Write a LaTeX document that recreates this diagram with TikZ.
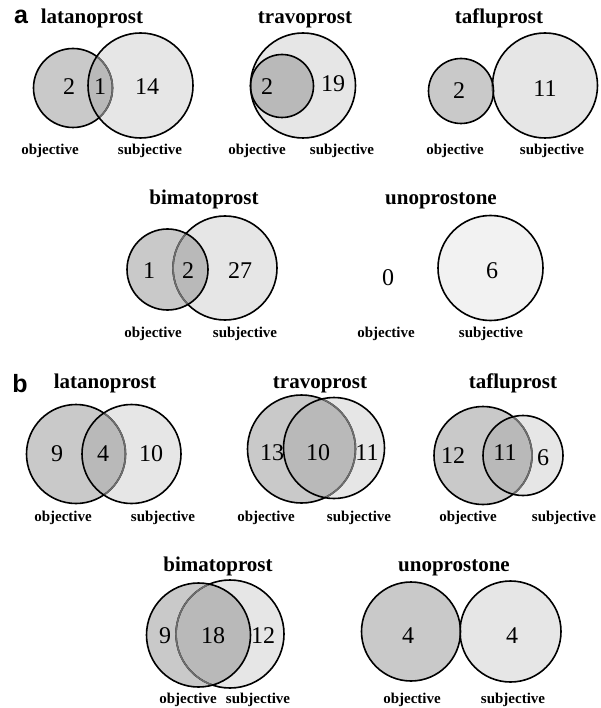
\documentclass[tikz,border=0pt]{standalone}
\usepackage{fontspec}
\setmainfont{Liberation Serif}
\newfontfamily\panelfont{Liberation Sans}
\definecolor{objfill}{HTML}{C9C9C9}
\definecolor{subfill}{HTML}{E6E6E6}
\definecolor{intfill}{HTML}{B9B9B9}
\definecolor{palefill}{HTML}{F2F2F2}
\definecolor{inedge}{HTML}{6E6E6E}
\tikzset{
  edge/.style={draw=black, line width=1.6pt},
  grayedge/.style={draw=inedge, line width=1.6pt},
  ttl/.style={font=\fontsize{21}{21}\selectfont\bfseries, inner sep=0pt, anchor=base},
  num/.style={font=\fontsize{24}{24}\selectfont, inner sep=0pt, anchor=base},
  lbl/.style={font=\fontsize{15}{15}\selectfont\bfseries, inner sep=0pt, anchor=base},
  pan/.style={font=\fontsize{25}{25}\selectfont\panelfont\bfseries, inner sep=0pt, anchor=base}
}
% #1,#2,#3 objective; #4,#5,#6 subjective; #7 = o (objective on top) or s
\newcommand\vennpair[7]{%
  \fill[objfill] (#1,#2) circle (#3);
  \fill[subfill] (#4,#5) circle (#6);
  \begin{scope}\clip (#1,#2) circle (#3); \fill[intfill] (#4,#5) circle (#6); \end{scope}
  \if#7o
    \path[edge] (#4,#5) circle (#6);
    \begin{scope}\clip (#1,#2) circle (#3); \path[grayedge] (#4,#5) circle (#6); \end{scope}
    \path[edge] (#1,#2) circle (#3);
  \else
    \path[edge] (#1,#2) circle (#3);
    \begin{scope}\clip (#4,#5) circle (#6); \path[grayedge] (#1,#2) circle (#3); \end{scope}
    \path[edge] (#4,#5) circle (#6);
  \fi
}
\begin{document}
\begin{tikzpicture}[x=1pt,y=1pt,yscale=-1]
\useasboundingbox (0,0) rectangle (601,708);
% ---------- panel a ----------
\node[pan] (pa) at (21,24) {a};
% latanoprost
\node[ttl] (ta1) at (92,23.5) {latanoprost};
\vennpair{73}{88}{39.5}{140.5}{85.5}{52.5}{s}
\node[num] (na1a) at (69,95) {2};
\node[num] (na1b) at (100,95) {1};
\node[num] (na1c) at (147,95) {14};
\node[lbl] (la1o) at (50,155) {objective};
\node[lbl] (la1s) at (150,155) {subjective};
% travoprost
\node[ttl] (ta2) at (305,23.5) {travoprost};
\vennpair{282}{86}{31.5}{303}{85.5}{52.5}{o}
\node[num] (na2a) at (267,94.5) {2};
\node[num] (na2b) at (333,92) {19};
\node[lbl] (la2o) at (257,155) {objective};
\node[lbl] (la2s) at (342,155) {subjective};
% tafluprost
\node[ttl] (ta3) at (499,23.5) {tafluprost};
\vennpair{461}{91}{32.5}{545}{85.5}{52.5}{o}
\node[num] (na3a) at (459,99) {2};
\node[num] (na3b) at (545,96.5) {11};
\node[lbl] (la3o) at (455,155) {objective};
\node[lbl] (la3s) at (552,155) {subjective};
% bimatoprost
\node[ttl] (ta4) at (204,205) {bimatoprost};
\vennpair{167.5}{269.5}{40.5}{225}{268}{52}{o}
\node[num] (na4a) at (149,278) {1};
\node[num] (na4b) at (188,278) {2};
\node[num] (na4c) at (240,278) {27};
\node[lbl] (la4o) at (153,337) {objective};
\node[lbl] (la4s) at (245,337) {subjective};
% unoprostone
\node[ttl] (ta5) at (441,205) {unoprostone};
\path[edge, fill=palefill] (490.5,268) circle (52.5);
\node[num] (na5a) at (388,285) {0};
\node[num] (na5b) at (492,278) {6};
\node[lbl] (la5o) at (386,337) {objective};
\node[lbl] (la5s) at (491,337) {subjective};
% ---------- panel b ----------
\node[pan] (pb) at (20,392.5) {b};
% latanoprost
\node[ttl] (tb1) at (105,388.5) {latanoprost};
\vennpair{76}{454}{49.5}{131.5}{454}{49.5}{s}
\node[num] (nb1a) at (57,461.5) {9};
\node[num] (nb1b) at (103,461.5) {4};
\node[num] (nb1c) at (151,461.5) {10};
\node[lbl] (lb1o) at (63,521) {objective};
\node[lbl] (lb1s) at (163,521) {subjective};
% travoprost
\node[ttl] (tb2) at (320,388.5) {travoprost};
\vennpair{301.5}{449}{54}{334}{448}{50.5}{s}
\node[num] (nb2a) at (272,460.5) {13};
\node[num] (nb2b) at (318,460.5) {10};
\node[num] (nb2c) at (367,460.5) {11};
\node[lbl] (lb2o) at (266,521) {objective};
\node[lbl] (lb2s) at (359,521) {subjective};
% tafluprost
\node[ttl] (tb3) at (513,388.5) {tafluprost};
\vennpair{483}{455.5}{49}{523}{455.5}{40}{s}
\node[num] (nb3a) at (453,463) {12};
\node[num] (nb3b) at (505,460) {11};
\node[num] (nb3c) at (543,465) {6};
\node[lbl] (lb3o) at (468,521) {objective};
\node[lbl] (lb3s) at (564,521) {subjective};
% bimatoprost
\node[ttl] (tb4) at (218,571) {bimatoprost};
\vennpair{198.5}{635}{52}{230}{634}{54}{o}
\node[num] (nb4a) at (165,643) {9};
\node[num] (nb4b) at (213,643) {18};
\node[num] (nb4c) at (263,643) {12};
\node[lbl] (lb4o) at (188,703) {objective};
\node[lbl] (lb4s) at (258,703) {subjective};
% unoprostone
\node[ttl] (tb5) at (454,571) {unoprostone};
\vennpair{411}{631.5}{49.5}{510.5}{631.5}{50.5}{o}
\node[num] (nb5a) at (408,643) {4};
\node[num] (nb5b) at (512,643) {4};
\node[lbl] (lb5o) at (412,703) {objective};
\node[lbl] (lb5s) at (513,703) {subjective};
\end{tikzpicture}
\end{document}
